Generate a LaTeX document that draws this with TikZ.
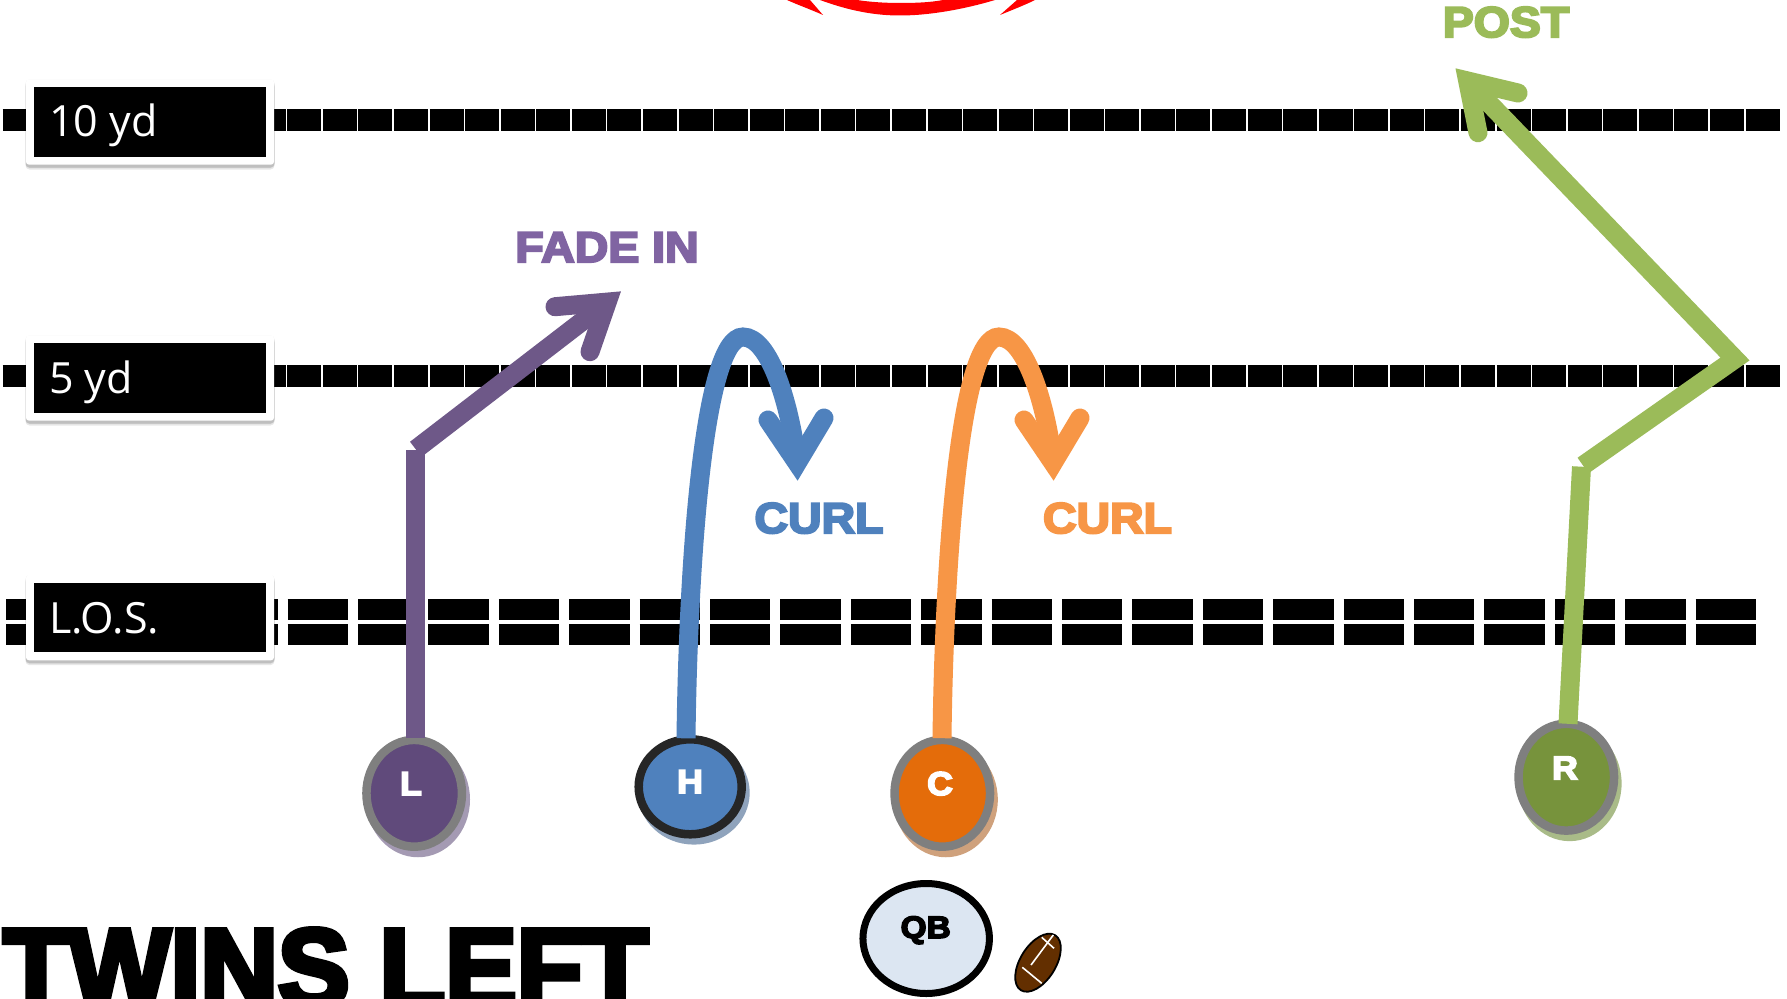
\documentclass[tikz,border=0pt]{standalone}
\usepackage{fontspec}
\usetikzlibrary{shapes.geometric}
\newfontfamily\labelfont{Open Sans}
\newfontfamily\heavy[UprightFont={* Bold},UprightFeatures={FakeBold=5,FakeStretch=1.08}]{Liberation Sans}
\newfontfamily\titlefont[UprightFont={* Bold},UprightFeatures={FakeBold=5,FakeStretch=0.96}]{Liberation Sans}
\definecolor{cpurple}{HTML}{6E5888}
\definecolor{tpurple}{HTML}{8064A2}
\definecolor{fpurple}{HTML}{604A7B}
\definecolor{spurple}{HTML}{A49AB3}
\definecolor{cblue}{HTML}{4F81BD}
\definecolor{sblue}{HTML}{8FA3BC}
\definecolor{corange}{HTML}{F79646}
\definecolor{forange}{HTML}{E46C0A}
\definecolor{sorange}{HTML}{CFA17C}
\definecolor{cgreen}{HTML}{9BBB59}
\definecolor{fgreen}{HTML}{77933C}
\definecolor{sgreen}{HTML}{A9BB88}
\definecolor{cqb}{HTML}{DCE6F2}
\definecolor{cball}{HTML}{632F00}
\definecolor{bordergray}{HTML}{7F7F7F}
\definecolor{borderdark}{HTML}{262626}
\tikzset{
  yardline/.style={line width=21.5pt,dash pattern=on 34pt off 1.57pt},
  loslinepat/.style={line width=21pt,dash pattern=on 60.4pt off 10pt},
  plate/.style={rectangle,fill=white,inner sep=0pt,outer sep=0pt,minimum width=248pt,minimum height=85.4pt,rounded corners=3pt},
  plateshadow/.style={rectangle,fill=black,fill opacity=.09,inner sep=0pt,outer sep=0pt,minimum width=249pt,rounded corners=4pt},
  blackbox/.style={rectangle,fill=black,inner sep=0pt,outer sep=0pt,minimum width=232.3pt,minimum height=69.6pt},
  yardtext/.style={anchor=base west,inner sep=0pt,text=white,font=\labelfont\fontsize{43}{50}\selectfont},
  player/.style={ellipse,inner sep=0pt,outer sep=0pt,line width=8.5pt,minimum width=95.5pt,minimum height=106.8pt},
  shadowell/.style={ellipse,inner sep=0pt,outer sep=0pt,minimum width=104pt,minimum height=115.3pt},
  playertext/.style={anchor=base,inner sep=0pt,text=white,font=\heavy\fontsize{33}{36}\selectfont},
  routetext/.style={anchor=base,inner sep=0pt,font=\heavy\fontsize{43}{48}\selectfont},
  route/.style={line width=19pt,line cap=butt,line join=miter},
  head/.style={line width=19pt,line cap=round,line join=miter,miter limit=10},
}
\begin{document}
\begin{tikzpicture}[x=1pt,y=-1pt]
\useasboundingbox (0,0) rectangle (1787,998);
\clip (0,0) rectangle (1787,998);
\fill[white] (0,0) rectangle (1787,998);
% red arc (cropped)
\fill[red] (820,0) .. controls (850,11) and (875,15.5) .. (900,15.5) .. controls (930,15.5) and (965,9) .. (995,0) -- (943,0) .. controls (930,2.5) and (915,3) .. (900,3) .. controls (885,3) and (870,2) .. (857,0) -- cycle;
\fill[red] (787,0) -- (810,0) -- (823,15) .. controls (812,10) and (798,5) .. (787,0) -- cycle;
\fill[red] (1035,0) -- (1017,0) -- (1000,15) .. controls (1012,10) and (1025,5) .. (1035,0) -- cycle;
% yard lines
\coordinate (tenL) at (2.67,120);  \coordinate (tenR) at (1780,120);
\coordinate (fiveL) at (2.67,376); \coordinate (fiveR) at (1780,376);
\coordinate (losAL) at (6,609.2);  \coordinate (losAR) at (1756,609.2);
\coordinate (losBL) at (6,634.8);  \coordinate (losBR) at (1756,634.8);
\draw[yardline] (tenL) -- (tenR);
\draw[yardline] (fiveL) -- (fiveR);
\draw[loslinepat] (losAL) -- (losAR);
\draw[loslinepat] (losBL) -- (losBR);
% label plates
\foreach \nm/\cy in {a/122,b/378,c/617.6}{
  \node[plateshadow,minimum height=87pt] (\nm s1) at (150,\cy+2.5) {};
  \node[plateshadow,minimum height=90pt] (\nm s2) at (150,\cy+2.5) {};
  \node[plateshadow,minimum height=85pt] (\nm s3) at (150,\cy+3) {};
  \node[plate] (\nm p) at (150,\cy) {};
  \node[blackbox] (\nm b) at (150.15,\cy) {};
}
\node[yardtext] (ta) at (49,136.7) {10 yd};
\node[yardtext] (tb) at (49,393) {5 yd};
\node[yardtext] (tc) at (49,633) {L.O.S.};
% players
\node[shadowell,fill=spurple] (Ls) at (418,799.6) {};
\node[player,draw=bordergray,fill=fpurple] (L) at (414.2,793.3) {};
\node[shadowell,fill=sblue,minimum width=111.6pt,minimum height=103.6pt] (Hs) at (693.9,792.8) {};
\node[player,draw=borderdark,fill=cblue,minimum width=103pt,minimum height=95pt] (H) at (690.2,786.8) {};
\node[shadowell,fill=sorange] (Cs) at (945.8,799.6) {};
\node[player,draw=bordergray,fill=forange] (C) at (942.3,793.3) {};
\node[shadowell,fill=sgreen] (Rs) at (1569.6,783.5) {};
\node[player,draw=bordergray,fill=fgreen] (R) at (1566.3,777.2) {};
\node[ellipse,draw=black,fill=cqb,line width=7pt,inner sep=0pt,outer sep=0pt,minimum width=126.5pt,minimum height=110pt] (QB) at (926.2,938.5) {};
\node[playertext,text=black,font=\heavy\fontsize{31}{34}\selectfont] (Lqb) at (925.7,938) {QB};
\node[playertext] (Lt) at (411,795) {L};
\node[playertext] (Ht) at (690,793) {H};
\node[playertext] (Ct) at (940,795) {C};
\node[playertext] (Rt) at (1565,779.3) {R};
% football
\node[ellipse,draw=black,fill=cball,line width=1.8pt,inner sep=0pt,outer sep=0pt,minimum width=64.8pt,minimum height=35.4pt,rotate=58] (ball) at (1038,962.7) {};
\draw[white,line width=1.6pt] (1031,965) -- (1053.3,935);
\draw[white,line width=1.6pt] (1041.7,937.3) -- (1054,948.3);
\draw[white,line width=1.6pt] (1022.3,967.3) -- (1041.7,983.3);
% L route
\coordinate (Lcorner) at (415,450);
\coordinate (Lstart) at (415.8,449.3);
\coordinate (Lvertex) at (607.2,302.1);
\draw[route,cpurple] ([xshift=.8pt,yshift=1.5pt]L.north) -- (Lcorner);
\draw[route,cpurple] (Lstart) -- (Lvertex);
\draw[head,cpurple] (555,306.7) -- (Lvertex) -- (590,351.7);
% H route
\coordinate (Hapex) at (743,337);
\coordinate (Hvertex) at (797.1,463);
\draw[route,cblue] ([xshift=-4.2pt,yshift=1pt]H.north) .. controls (688,570) and (703,337) .. (Hapex) .. controls (770,337) and (790,405) .. (Hvertex);
\draw[head,cblue] (768,420) -- (Hvertex) -- (824,418);
% C route
\coordinate (Capex) at (999,337);
\coordinate (Cvertex) at (1053.1,463);
\draw[route,corange] ([xshift=-.3pt,yshift=1.7pt]C.north) .. controls (944,570) and (959,337) .. (Capex) .. controls (1026,337) and (1046,405) .. (Cvertex);
\draw[head,corange] (1024,420) -- (Cvertex) -- (1080,418);
% R route
\coordinate (Rcorner) at (1581.5,466.7);
\coordinate (Rstart) at (1583,465.5);
\coordinate (Rturn) at (1735,359);
\coordinate (Rvertex) at (1467.7,81);
\draw[route,cgreen] ([xshift=1.7pt]R.north) -- (Rcorner);
\draw[route,cgreen] (Rstart) -- (Rturn) -- (Rvertex);
\draw[head,cgreen] (1518,93) -- (Rvertex) -- (1478,132.7);
% route names
\node[routetext,text=tpurple] (fade) at (607,262) {FADE IN};
\node[routetext,text=cblue] (curlA) at (819,533) {CURL};
\node[routetext,text=corange] (curlB) at (1107.5,533) {CURL};
\node[routetext,text=cgreen] (post) at (1506,37) {POST};
% title
\node[anchor=base west,inner sep=0pt,font=\titlefont\fontsize{112}{116}\selectfont] (title) at (3,1007) {TWINS LEFT};
\end{tikzpicture}
\end{document}
